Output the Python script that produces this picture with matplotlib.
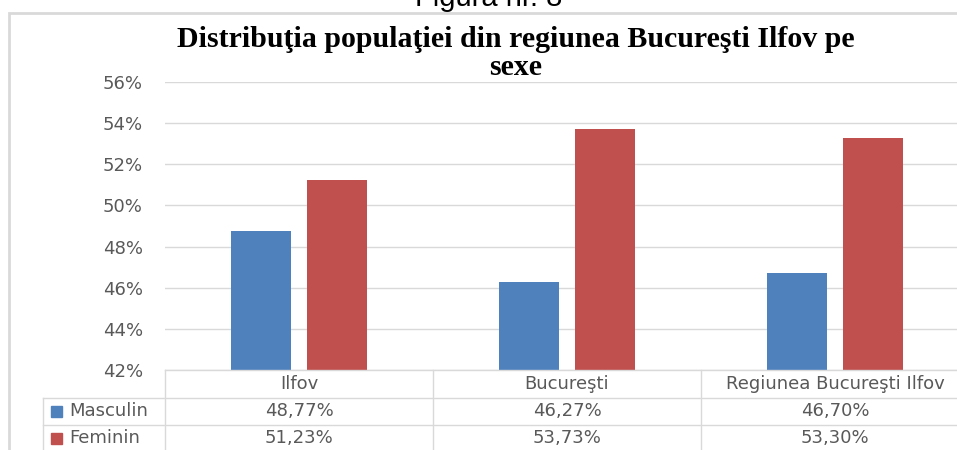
import matplotlib
matplotlib.use("Agg")
import matplotlib.pyplot as plt
from matplotlib import transforms
from matplotlib.lines import Line2D
from matplotlib.patches import Rectangle

categories = ["Ilfov", "Bucureşti", "Regiunea Bucureşti Ilfov"]
series_names = ["Masculin", "Feminin"]
masculin = [48.77, 46.27, 46.70]
feminin = [51.23, 53.73, 53.30]
table_masculin = ["48,77%", "46,27%", "46,70%"]
table_feminin = ["51,23%", "53,73%", "53,30%"]
yticks = [42, 44, 46, 48, 50, 52, 54, 56]
title_line1 = "Distribuţia populaţiei din regiunea Bucureşti Ilfov pe"
title_line2 = "sexe"
caption = "Figura nr. 8"

W, H = 957, 450
BLUE = "#4F81BD"
RED = "#C0504D"
GRAY_TXT = "#595959"
GRID = "#D9D9D9"

fig = plt.figure(figsize=(W / 100, H / 100), dpi=100)
fig.patch.set_facecolor("white")

def fx(px):
    return px / W

def fy(py):
    return 1 - py / H

# outer chart border
fig.add_artist(Rectangle((fx(9), fy(470)), fx(1000), (470 - 13) / H,
                         transform=fig.transFigure, fill=False,
                         edgecolor="#D9D9D9", lw=2))

# caption (cut at top in the reference)
fig.text(fx(489), fy(6), caption, ha="center", va="baseline",
         fontsize=21, family="Liberation Sans", color="black")

# title
tt = dict(ha="center", va="baseline", fontsize=21.5, family="Liberation Serif",
          fontweight="bold", color="black")
fig.text(fx(516), fy(47), title_line1, **tt)
fig.text(fx(516), fy(75), title_line2, **tt)

colw = 268
ax = fig.add_axes([fx(165), 80 / H, 3 * colw / W, 288 / H])
ax.set_xlim(0, 3)
ax.set_ylim(42, 56)
for s in ax.spines.values():
    s.set_visible(False)
ax.set_yticks(yticks)
ax.set_yticklabels([f"{v}%" for v in yticks], color=GRAY_TXT, fontsize=13,
                   family="DejaVu Sans")
ax.tick_params(axis="y", length=0, pad=16)
ax.set_xticks([])
ax.grid(axis="y", color=GRID, lw=1)
ax.set_axisbelow(True)

xs = [i + 0.5 for i in range(len(categories))]
bw = 60 / colw
off = 38 / colw
ax.bar([x - off for x in xs], [v - 42 for v in masculin], bottom=42, width=bw,
       color=BLUE, zorder=3)
ax.bar([x + off for x in xs], [v - 42 for v in feminin], bottom=42, width=bw,
       color=RED, zorder=3)

# data table
bt = transforms.blended_transform_factory(ax.transData, fig.transFigure)
lc = dict(color=GRID, lw=1, transform=fig.transFigure)
fig.add_artist(Line2D([fx(165), fx(957)], [fy(370), fy(370)], **lc))
fig.add_artist(Line2D([fx(43), fx(957)], [fy(398), fy(398)], **lc))
fig.add_artist(Line2D([fx(43), fx(957)], [fy(425), fy(425)], **lc))
fig.add_artist(Line2D([fx(43), fx(43)], [fy(398), fy(460)], **lc))
for i in range(len(categories)):
    fig.add_artist(Line2D([i, i], [fy(370), fy(460)], color=GRID, lw=1,
                          transform=bt))

tk = dict(ha="center", va="center", fontsize=13, color=GRAY_TXT,
          family="DejaVu Sans")
for i, c in enumerate(categories):
    fig.text(xs[i], fy(384), c, transform=bt, **tk)
    fig.text(xs[i], fy(411), table_masculin[i], transform=bt, **tk)
    fig.text(xs[i], fy(438), table_feminin[i], transform=bt, **tk)

for name, col, yc in [(series_names[0], BLUE, 411), (series_names[1], RED, 438)]:
    fig.add_artist(Rectangle((fx(51), fy(yc + 5.5)), 11 / W, 11 / H,
                             transform=fig.transFigure, color=col))
    fig.text(fx(69), fy(yc), name, ha="left", va="center", fontsize=13,
             color=GRAY_TXT, family="DejaVu Sans")

fig.savefig("out.png", dpi=100)
